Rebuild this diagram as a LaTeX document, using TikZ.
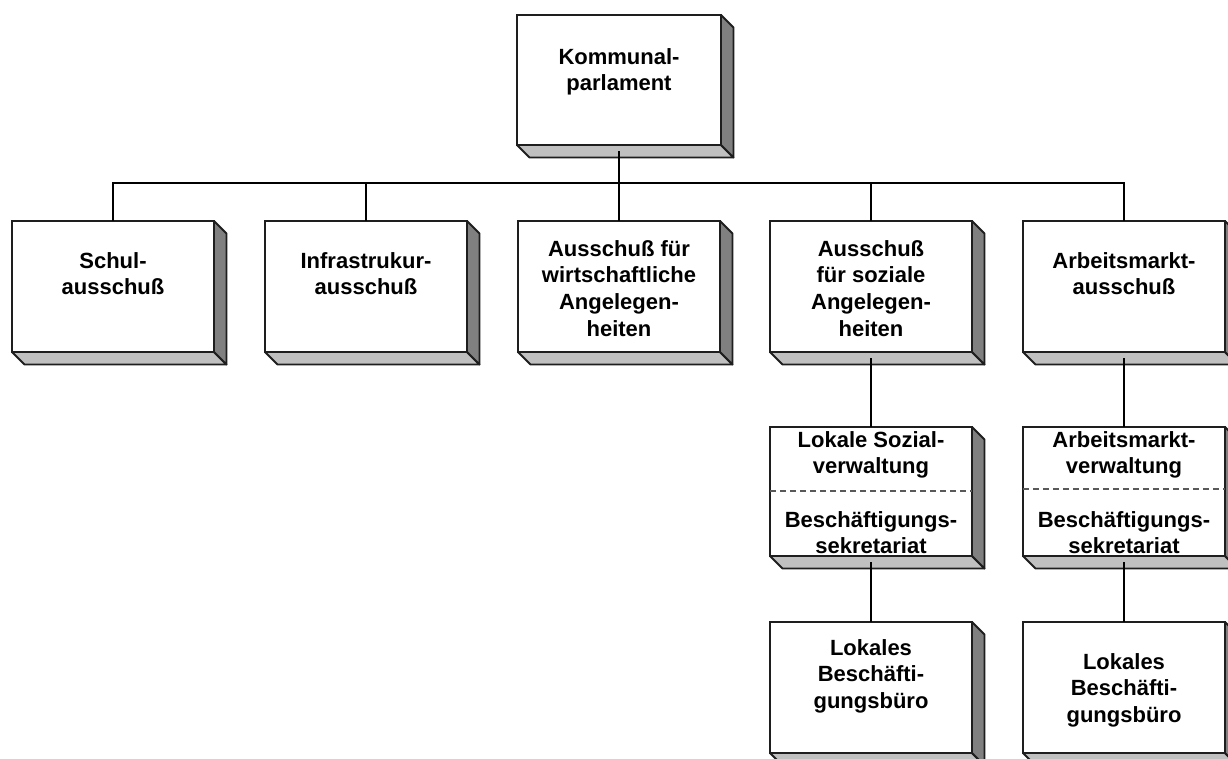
\documentclass[tikz,border=0pt]{standalone}
\usepackage{fontspec}
\setmainfont{Liberation Sans}
\usetikzlibrary{calc}
\definecolor{botgray}{RGB}{192,192,192}
\definecolor{sidegray}{RGB}{128,128,128}
\definecolor{edgec}{RGB}{30,30,30}
\tikzset{
  front/.style={draw=edgec, line width=1.8pt, fill=white, inner sep=0pt, outer sep=0pt},
  face/.style={draw=edgec, line width=1.8pt, line join=round},
  lbl/.style={font=\fontsize{22}{26.7}\selectfont\bfseries, align=center, inner sep=0pt, anchor=north},
  conn/.style={draw=black, line width=1.3pt},
  divider/.style={draw=black!65, line width=1.2pt, dash pattern=on 6pt off 4pt}
}
\newcommand\dd{12.5}
% #1 name, #2 x0, #3 y0, #4 x1, #5 y1 (y downward)
\newcommand\cubebox[5]{%
  \node[front, minimum width={#4-#2}, minimum height={#5-#3}] (#1) at ({(#2+#4)/2},{(#3+#5)/2}) {};
  \draw[face, fill=botgray] (#1.south west) -- ++(\dd,\dd) -- ($(#1.south east)+(\dd,\dd)$) -- (#1.south east) -- cycle;
  \draw[face, fill=sidegray] (#1.north east) -- ++(\dd,\dd) -- ($(#1.south east)+(\dd,\dd)$) -- (#1.south east) -- cycle;
}
\begin{document}
\begin{tikzpicture}[x=1pt,y=-1pt]
\useasboundingbox (0,0) rectangle (1228,758);
\clip (0,0) rectangle (1228,758);
\fill[white] (0,0) rectangle (1228,758);

% boxes
\cubebox{k}{517}{15}{721}{145}
\cubebox{s1}{12}{221}{214}{352}
\cubebox{s2}{265}{221}{467}{352}
\cubebox{s3}{518}{221}{720}{352}
\cubebox{s4}{770}{221}{972}{352}
\cubebox{s5}{1023}{221}{1225}{352}
\cubebox{m4}{770}{427}{972}{556}
\cubebox{m5}{1023}{427}{1225}{556}
\cubebox{b4}{770}{622}{972}{753}
\cubebox{b5}{1023}{622}{1225}{753}

% dividers
\draw[divider] (m4.west |- 0,491) -- (m4.east |- 0,491);
\draw[divider] (m5.west |- 0,489) -- (m5.east |- 0,489);

% connectors
\coordinate (bus) at (619,183);
\foreach \c in {s1,s2,s3,s4,s5}{
  \draw[conn] ([yshift=-6pt]k.south) -- (bus) -| (\c.north);
}
\draw[conn] ([yshift=-6pt]s4.south) -- (m4.north);
\draw[conn] ([yshift=-6pt]s5.south) -- (m5.north);
\draw[conn] ([yshift=-6pt]m4.south) -- (b4.north);
\draw[conn] ([yshift=-6pt]m5.south) -- (b5.north);

% labels
\node[lbl] (tk) at (619,48) {Kommunal-\\parlament};
\node[lbl] (t1) at (113,252) {Schul-\\ausschuß};
\node[lbl] (t2) at (366,252) {Infrastrukur-\\ausschuß};
\node[lbl] (t3) at (619,240) {Ausschuß für\\wirtschaftliche\\Angelegen-\\heiten};
\node[lbl] (t4) at (871,240) {Ausschuß\\für soziale\\Angelegen-\\heiten};
\node[lbl] (t5) at (1124,252) {Arbeitsmarkt-\\ausschuß};
\node[lbl] (tm4a) at (871,431) {Lokale Sozial-\\verwaltung};
\node[lbl] (tm4b) at (871,511) {Beschäftigungs-\\sekretariat};
\node[lbl] (tm5a) at (1124,431) {Arbeitsmarkt-\\verwaltung};
\node[lbl] (tm5b) at (1124,511) {Beschäftigungs-\\sekretariat};
\node[lbl] (tb4) at (871,639) {Lokales\\Beschäfti-\\gungsbüro};
\node[lbl] (tb5) at (1124,653) {Lokales\\Beschäfti-\\gungsbüro};
\end{tikzpicture}
\end{document}
